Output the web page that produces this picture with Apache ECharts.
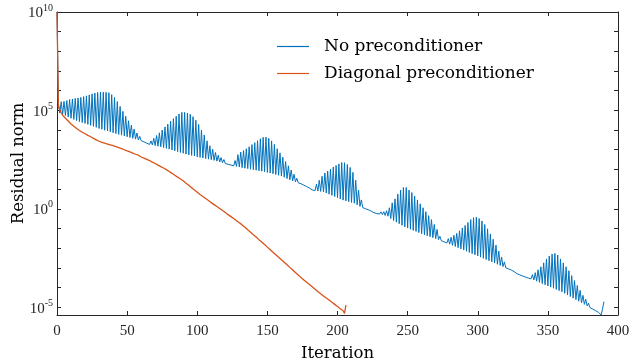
<!DOCTYPE html>
<html>
<head>
<meta charset="utf-8">
<script src="https://cdn.jsdelivr.net/npm/echarts@6/dist/echarts.min.js"></script>
<style>
  html, body { margin: 0; padding: 0; background: #fff; }
  #chart { width: 630px; height: 360px; }
</style>
</head>
<body>
<div id="chart"></div>
<script>
// residual norm per iteration, stored as log10(residual)
const noPrecondLog = [
  10.00, 5.40, 4.86, 5.44, 4.80, 5.46, 4.74, 5.50, 4.66, 5.55,
  4.60, 5.58, 4.54, 5.61, 4.48, 5.63, 4.43, 5.66, 4.38, 5.70,
  4.34, 5.74, 4.29, 5.79, 4.24, 5.84, 4.19, 5.88, 4.14, 5.91,
  4.08, 5.93, 4.04, 5.93, 3.99, 5.92, 3.95, 5.90, 3.91, 5.80,
  3.86, 5.65, 3.82, 5.45, 3.78, 5.20, 3.74, 4.95, 3.70, 4.70,
  3.66, 4.47, 3.62, 4.25, 3.58, 4.05, 3.54, 3.85, 3.50, 3.68,
  3.46, 3.55, 3.40, 3.42, 3.33, 3.32, 3.27, 3.45, 3.24, 3.58,
  3.21, 3.72, 3.18, 3.86, 3.15, 4.00, 3.11, 4.16, 3.07, 4.30,
  3.03, 4.45, 2.99, 4.58, 2.95, 4.70, 2.90, 4.82, 2.86, 4.90,
  2.82, 4.90, 2.78, 4.86, 2.74, 4.80, 2.71, 4.68, 2.68, 4.50,
  2.64, 4.28, 2.61, 4.00, 2.58, 3.75, 2.55, 3.45, 2.52, 3.20,
  2.49, 3.02, 2.46, 2.86, 2.42, 2.72, 2.38, 2.60, 2.34, 2.50,
  2.30, 2.40, 2.26, 2.30, 2.22, 2.24, 2.18, 2.45, 2.15, 2.75,
  2.12, 2.88, 2.09, 2.96, 2.06, 3.05, 2.04, 3.15, 2.01, 3.26,
  1.98, 3.36, 1.96, 3.46, 1.93, 3.56, 1.91, 3.63, 1.88, 3.64,
  1.85, 3.58, 1.82, 3.45, 1.78, 3.27, 1.74, 3.05, 1.70, 2.84,
  1.66, 2.62, 1.60, 2.40, 1.53, 2.18, 1.47, 1.97, 1.42, 1.75,
  1.37, 1.55, 1.32, 1.40, 1.27, 1.28, 1.20, 1.18, 1.13, 1.10,
  1.05, 1.02, 0.96, 1.05, 0.92, 1.25, 0.90, 1.45, 0.88, 1.65,
  0.85, 1.82, 0.80, 1.92, 0.74, 2.02, 0.68, 2.12, 0.62, 2.20,
  0.56, 2.28, 0.50, 2.35, 0.44, 2.34, 0.40, 2.25, 0.36, 2.10,
  0.32, 1.85, 0.28, 1.45, 0.20, 0.95, 0.12, 0.45, 0.06, 0.15,
  0.00, 0.02, -0.05, -0.04, -0.12, -0.10, -0.20, -0.12, -0.24, -0.15,
  -0.27, -0.16, -0.30, -0.15, -0.34, -0.10, -0.38, 0.05, -0.50, 0.30,
  -0.60, 0.50, -0.68, 0.75, -0.76, 0.95, -0.84, 1.08, -0.92, 1.08,
  -0.98, 0.95, -1.04, 0.82, -1.10, 0.65, -1.15, 0.45, -1.21, 0.25,
  -1.27, 0.05, -1.32, -0.15, -1.37, -0.35, -1.42, -0.55, -1.47, -0.80,
  -1.52, -1.05, -1.57, -1.40, -1.62, -1.60, -1.68, -1.62, -1.74, -1.52,
  -1.80, -1.45, -1.86, -1.35, -1.92, -1.25, -1.98, -1.12, -2.04, -0.98,
  -2.10, -0.85, -2.16, -0.70, -2.22, -0.55, -2.28, -0.45, -2.34, -0.42,
  -2.40, -0.50, -2.46, -0.62, -2.52, -0.80, -2.58, -1.02, -2.64, -1.28,
  -2.70, -1.55, -2.76, -1.85, -2.82, -2.15, -2.88, -2.45, -2.94, -2.70,
  -3.00, -2.90, -3.06, -3.08, -3.12, -3.20, -3.20, -3.24, -3.30, -3.28,
  -3.36, -3.32, -3.42, -3.38, -3.47, -3.42, -3.52, -3.45, -3.56, -3.35,
  -3.62, -3.25, -3.68, -3.10, -3.74, -2.95, -3.80, -2.75, -3.86, -2.55,
  -3.92, -2.40, -3.98, -2.30, -4.04, -2.27, -4.10, -2.35, -4.16, -2.55,
  -4.22, -2.75, -4.30, -2.95, -4.38, -3.15, -4.46, -3.40, -4.54, -3.65,
  -4.62, -3.90, -4.70, -4.15, -4.78, -4.40, -4.86, -4.60, -4.94, -4.80,
  -5.02, -4.95, -5.10, -5.08, -5.18, -5.18, -5.26, -5.28, -5.40, -5.08,
  -4.72
];

const diagPrecondLog = [
  10.00, 5.17, 5.02, 4.88, 4.76, 4.68, 4.60, 4.53, 4.46, 4.38,
  4.31, 4.25, 4.19, 4.13, 4.08, 4.03, 3.98, 3.93, 3.89, 3.85,
  3.81, 3.77, 3.73, 3.70, 3.66, 3.62, 3.58, 3.54, 3.50, 3.46,
  3.43, 3.39, 3.37, 3.35, 3.33, 3.31, 3.29, 3.27, 3.25, 3.23,
  3.21, 3.19, 3.16, 3.14, 3.11, 3.08, 3.06, 3.03, 3.00, 2.97,
  2.94, 2.92, 2.89, 2.86, 2.83, 2.80, 2.77, 2.75, 2.72, 2.69,
  2.63, 2.66, 2.57, 2.60, 2.51, 2.54, 2.45, 2.47, 2.37, 2.40,
  2.30, 2.32, 2.22, 2.24, 2.14, 2.16, 2.07, 2.09, 1.99, 2.00,
  1.89, 1.91, 1.80, 1.81, 1.70, 1.72, 1.61, 1.62, 1.51, 1.53,
  1.42, 1.42, 1.30, 1.31, 1.19, 1.19, 1.07, 1.07, 0.95, 0.96,
  0.84, 0.84, 0.72, 0.73, 0.62, 0.63, 0.52, 0.53, 0.42, 0.42,
  0.31, 0.32, 0.21, 0.22, 0.11, 0.12, 0.01, 0.02, -0.09, -0.08,
  -0.19, -0.19, -0.30, -0.29, -0.40, -0.39, -0.50, -0.50, -0.61, -0.60,
  -0.71, -0.70, -0.82, -0.82, -0.94, -0.95, -1.07, -1.07, -1.19, -1.20,
  -1.32, -1.32, -1.44, -1.44, -1.57, -1.57, -1.69, -1.70, -1.82, -1.83,
  -1.95, -1.96, -2.08, -2.09, -2.21, -2.21, -2.34, -2.34, -2.47, -2.47,
  -2.59, -2.60, -2.72, -2.73, -2.85, -2.86, -2.98, -2.99, -3.11, -3.12,
  -3.24, -3.25, -3.37, -3.38, -3.50, -3.50, -3.62, -3.62, -3.74, -3.74,
  -3.85, -3.85, -3.97, -3.97, -4.09, -4.09, -4.21, -4.20, -4.32, -4.31,
  -4.43, -4.42, -4.54, -4.53, -4.64, -4.64, -4.75, -4.75, -4.86, -4.85,
  -4.97, -4.96, -5.08, -5.07, -5.18, -5.32, -4.90
];

const seriesNames = ['No preconditioner', 'Diagonal preconditioner'];
const yTickExps = [-5, -4, -3, -2, -1, 0, 1, 2, 3, 4, 5, 6, 7, 8, 9, 10];
const yLabelExps = [-5, 0, 5, 10];

const axisColor = '#262626';
const toPoints = arr => arr.map((v, i) => [i, v]);

const chart = echarts.init(document.getElementById('chart'), null, { renderer: 'canvas' });

const baseX = {
  type: 'value', min: 0, max: 400, interval: 50,
  axisLine: { show: true, onZero: false, lineStyle: { color: axisColor, width: 1 } },
  axisTick: { show: true, inside: true, length: 4, lineStyle: { color: axisColor } },
  splitLine: { show: false }
};
const baseY = {
  type: 'value', min: -5.4, max: 10,
  axisLine: { show: true, onZero: false, lineStyle: { color: axisColor, width: 1 } },
  axisTick: { show: true, inside: true, length: 4, customValues: yTickExps, lineStyle: { color: axisColor } },
  splitLine: { show: false }
};

chart.setOption({
  animation: false,
  backgroundColor: '#fff',
  grid: { left: 57, right: 12, top: 12, bottom: 45, outerBoundsMode: 'none', containLabel: false },
  legend: {
    data: seriesNames,
    orient: 'vertical',
    left: 277, top: 38,
    padding: 0,
    icon: 'rect',
    itemWidth: 32, itemHeight: 1.2, itemGap: 10,
    textStyle: { fontFamily: 'DejaVu Serif', fontSize: 17, color: '#000', padding: [0, 0, 0, 10] }
  },
  xAxis: [
    Object.assign({}, baseX, {
      position: 'bottom',
      axisLabel: { color: axisColor, fontFamily: 'Liberation Serif', fontSize: 15, margin: 9 },
      name: 'Iteration', nameLocation: 'middle', nameGap: 30,
      nameTextStyle: { fontFamily: 'DejaVu Serif', fontSize: 16.5, color: '#000' }
    }),
    Object.assign({}, baseX, { position: 'top', axisLabel: { show: false } })
  ],
  yAxis: [
    Object.assign({}, baseY, {
      position: 'left',
      axisLabel: {
        customValues: yLabelExps,
        margin: 4,
        formatter: v => '{b|10}{s|' + v + '}',
        rich: {
          b: { fontFamily: 'Liberation Serif', fontSize: 15, color: axisColor, verticalAlign: 'bottom' },
          s: { fontFamily: 'Liberation Serif', fontSize: 10, color: axisColor, verticalAlign: 'bottom', padding: [0, 0, 8, 0] }
        }
      },
      name: 'Residual norm', nameLocation: 'middle', nameGap: 30, nameMoveOverlap: false,
      nameTextStyle: { fontFamily: 'DejaVu Serif', fontSize: 16.5, color: '#000' }
    }),
    Object.assign({}, baseY, { position: 'right', axisLabel: { show: false } })
  ],
  series: [
    {
      name: seriesNames[0], type: 'line', data: toPoints(noPrecondLog),
      symbol: 'none', showSymbol: false,
      lineStyle: { color: '#0072BD', width: 1 }, itemStyle: { color: '#0072BD' }
    },
    {
      name: seriesNames[1], type: 'line', data: toPoints(diagPrecondLog),
      symbol: 'none', showSymbol: false,
      lineStyle: { color: '#D95319', width: 1.3 }, itemStyle: { color: '#D95319' }
    }
  ]
});
</script>
</body>
</html>
